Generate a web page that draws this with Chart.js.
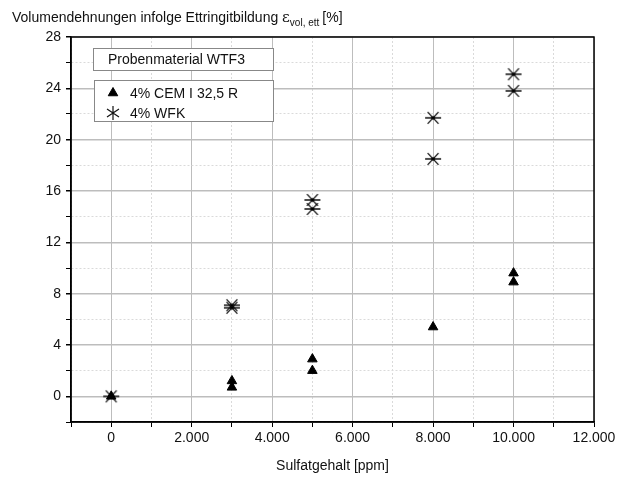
<!DOCTYPE html>
<html>
<head>
<meta charset="utf-8">
<script src="https://cdn.jsdelivr.net/npm/chart.js@4.4.1/dist/chart.umd.min.js"></script>
<style>
  html, body { margin: 0; padding: 0; background: #fff; }
  #wrap { width: 627px; height: 480px; }
</style>
</head>
<body>
<div id="wrap"><canvas id="myChart"></canvas></div>
<script>
const ctx = document.getElementById('myChart');

// Sulfatgehalt [ppm] / Volumendehnung [%]
const cemX = [0, 3000, 3000, 5000, 5000, 8000, 10000, 10000];
const cemY = [0, 1.2, 0.7, 2.9, 2.0, 5.4, 9.6, 8.9];
const wfkX = [0, 3000, 3000, 5000, 5000, 8000, 8000, 10000, 10000];
const wfkY = [0, 7.1, 6.9, 15.3, 14.6, 21.7, 18.5, 25.1, 23.8];

const seriesNames = ['4% CEM I 32,5 R', '4% WFK'];
const boxTitle = 'Probenmaterial WTF3';

const fnt = '"Liberation Sans", Arial, sans-serif';
const gridMajor = '#bdbdbd';
const gridMinor = '#dadada';

function fmt(v) {
    return String(v).replace(/\B(?=(\d{3})+(?!\d))/g, '.');
}

// asterisk symbol: horizontal bar + two diagonals + centre dot
function makeStar(r) {
    const cv = document.createElement('canvas');
    cv.width = cv.height = 2 * r + 2;
    const g = cv.getContext('2d');
    const m = r + 1;
    g.strokeStyle = '#111';
    g.lineWidth = 1.3;
    g.beginPath();
    g.moveTo(m - r, m); g.lineTo(m + r, m);
    const dx = r * 0.68, dy = r * 0.73;
    g.moveTo(m - dx, m - dy); g.lineTo(m + dx, m + dy);
    g.moveTo(m - dx, m + dy); g.lineTo(m + dx, m - dy);
    g.stroke();
    g.fillStyle = '#000';
    g.beginPath();
    g.arc(m, m, 1.7, 0, Math.PI * 2);
    g.fill();
    return cv;
}
const starImg = makeStar(8);

const framePlugin = {
    id: 'frame',
    afterDraw(chart) {
        const c = chart.ctx;
        const a = chart.chartArea;
        c.save();
        c.strokeStyle = '#000';
        c.lineWidth = 1.5;
        c.strokeRect(a.left, a.top, a.right - a.left, a.bottom - a.top);

        // title with subscript
        c.fillStyle = '#111';
        c.textBaseline = 'alphabetic';
        c.font = '14px ' + fnt;
        const t1 = 'Volumendehnungen infolge Ettringitbildung ';
        let x = 12;
        c.fillText(t1, x, 22);
        x += c.measureText(t1).width;
        c.font = '15px "DejaVu Serif", serif';
        c.fillText('ε', x, 22);
        x += c.measureText('ε').width;
        c.font = '10px ' + fnt;
        c.fillText('vol, ett', x, 26);
        x += c.measureText('vol, ett').width + 3;
        c.font = '14px ' + fnt;
        c.fillText('[%]', x, 22);

        // legend boxes
        c.lineWidth = 1;
        c.strokeStyle = '#888';
        c.fillStyle = '#fff';
        c.fillRect(93, 48, 180, 22);
        c.strokeRect(93.5, 48.5, 180, 22);
        c.fillRect(94, 80, 179, 41);
        c.strokeRect(94.5, 80.5, 179, 41);

        c.fillStyle = '#111';
        c.font = '14px ' + fnt;
        c.textBaseline = 'middle';
        c.fillText(boxTitle, 108, 60);
        c.fillText(seriesNames[0], 130, 94);
        c.fillText(seriesNames[1], 130, 114);

        c.fillStyle = '#000';
        c.strokeStyle = '#000';
        Chart.helpers.drawPoint(c, {pointStyle: 'triangle', radius: 5.5, borderWidth: 1}, 113, 93);
        c.lineWidth = 1.2;
        c.strokeStyle = '#111';
        c.beginPath();
        c.moveTo(113, 106); c.lineTo(113, 120);
        c.moveTo(107, 109); c.lineTo(119, 117);
        c.moveTo(107, 117); c.lineTo(119, 109);
        c.stroke();
        c.restore();
    }
};

new Chart(ctx, {
    type: 'scatter',
    data: {
        datasets: [
            {
                label: seriesNames[0],
                data: cemX.map((v, i) => ({x: v, y: cemY[i]})),
                pointStyle: 'triangle',
                pointRadius: 5.5,
                backgroundColor: '#000',
                borderColor: '#000',
                borderWidth: 1
            },
            {
                label: seriesNames[1],
                data: wfkX.map((v, i) => ({x: v, y: wfkY[i]})),
                pointStyle: starImg,
                pointRadius: 8,
                backgroundColor: '#000',
                borderColor: '#111',
                borderWidth: 1
            }
        ]
    },
    options: {
        responsive: true,
        maintainAspectRatio: false,
        animation: false,
        layout: {
            padding: {left: 0, top: 37, right: 33, bottom: 0}
        },
        scales: {
            x: {
                type: 'linear',
                min: -1000,
                max: 12000,
                afterFit: (s) => { s.height = 58; },
                ticks: {
                    stepSize: 1000,
                    autoSkip: false,
                    maxRotation: 0,
                    color: '#111',
                    padding: 3,
                    font: {family: fnt, size: 14},
                    callback: (v) => (v >= 0 && v % 2000 === 0) ? fmt(v) : ''
                },
                grid: {
                    color: (c) => (c.tick && c.tick.value % 2000 === 0) ? gridMajor : gridMinor,
                    lineWidth: 1,
                    tickColor: '#000',
                    tickLength: 5
                },
                border: {
                    color: '#000',
                    width: 1.5,
                    dash: (c) => (c.tick && c.tick.value % 2000 !== 0) ? [2, 2] : []
                },
                title: {
                    display: true,
                    text: 'Sulfatgehalt [ppm]',
                    color: '#111',
                    font: {family: fnt, size: 14},
                    padding: {top: 0, bottom: 5}
                }
            },
            y: {
                type: 'linear',
                min: -2,
                max: 28,
                afterFit: (s) => { s.width = 71; },
                ticks: {
                    stepSize: 2,
                    autoSkip: false,
                    color: '#111',
                    padding: 5,
                    font: {family: fnt, size: 14},
                    callback: (v) => (v >= 0 && v % 4 === 0) ? v : ''
                },
                grid: {
                    color: (c) => (c.tick && c.tick.value % 4 === 0) ? gridMajor : gridMinor,
                    lineWidth: (c) => (c.tick && c.tick.value % 4 === 0) ? 1.5 : 1,
                    tickColor: '#000',
                    tickLength: 5
                },
                border: {
                    color: '#000',
                    width: 1.5,
                    dash: (c) => (c.tick && c.tick.value % 4 !== 0) ? [2, 2] : []
                }
            }
        },
        plugins: {
            legend: {display: false},
            tooltip: {enabled: false}
        }
    },
    plugins: [framePlugin]
});
</script>
</body>
</html>
